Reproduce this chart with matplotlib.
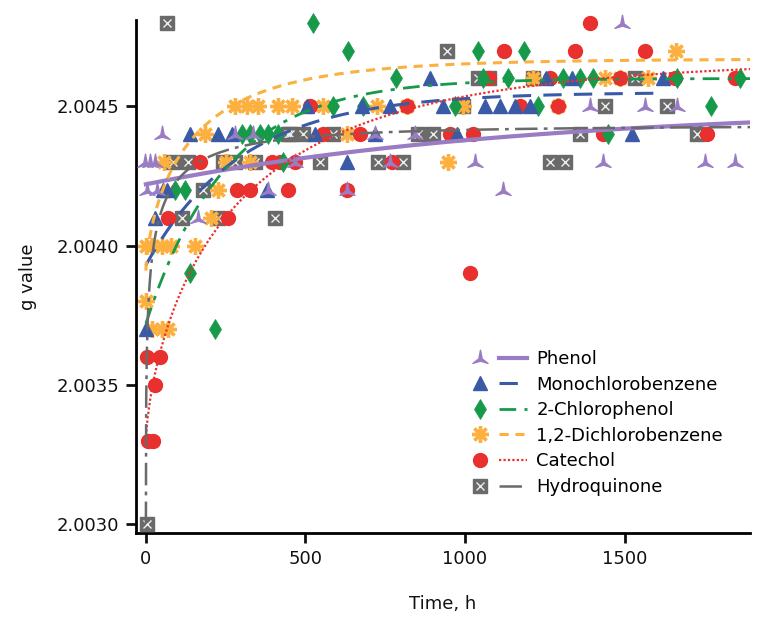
import numpy as np
import matplotlib
matplotlib.use("Agg")
import matplotlib.pyplot as plt
from matplotlib.path import Path
from matplotlib.legend_handler import HandlerTuple

plt.rcParams['font.family'] = ['DejaVu Sans']

# ---------------- data ----------------
series_names = ["Phenol", "Monochlorobenzene", "2-Chlorophenol",
                "1,2-Dichlorobenzene", "Catechol", "Hydroquinone"]

phenol_t = [-3, 13, 28, 3, 35, 50, 163, 279, 335, 382, 467, 630, 718, 765, 843,
            1031, 1119, 1392, 1433, 1492, 1564, 1665, 1752, 1846]
phenol_g = [2.0043, 2.0043, 2.0043, 2.0042, 2.0042, 2.0044, 2.0041, 2.0044, 2.0044,
            2.0042, 2.0043, 2.0042, 2.0044, 2.0043, 2.0044,
            2.0043, 2.0042, 2.0045, 2.0043, 2.0048, 2.0045, 2.0045, 2.0043, 2.0043]

mcb_t = [0, 30, 53, 66, 138, 226, 270, 379, 505, 530, 630, 677, 718, 765, 890, 931,
         975, 1063, 1110, 1157, 1204, 1254, 1335, 1524, 1620]
mcb_g = [2.0037, 2.0041, 2.0042, 2.0042, 2.0044, 2.0044, 2.0044, 2.0042, 2.0045, 2.0044,
         2.0043, 2.0045, 2.0044, 2.0045, 2.0046, 2.0045,
         2.0044, 2.0045, 2.0045, 2.0045, 2.0045, 2.0046, 2.0046, 2.0044, 2.0046]

cp_t = [91, 122, 138, 216, 301, 326, 357, 382, 414, 430, 523, 586, 633, 680, 784,
        969, 1041, 1056, 1135, 1185, 1229, 1307, 1360, 1401, 1448, 1665, 1771, 1862]
cp_g = [2.0042, 2.0042, 2.0039, 2.0037, 2.0044, 2.0044, 2.0044, 2.0044, 2.0044, 2.0043,
        2.0048, 2.0045, 2.0047, 2.0045, 2.0046,
        2.0045, 2.0047, 2.0046, 2.0046, 2.0047, 2.0045, 2.0046, 2.0046, 2.0046, 2.0044,
        2.0046, 2.0045, 2.0046]

dcb_t = [0, 20, 50, 80, 154, 0, 19, 50, 69, 57, 185, 204, 226, 252, 326,
         279, 317, 351, 414, 458, 555, 630, 724, 818, 947,
         994, 1213, 1292, 1439, 1486, 1574, 1661]
dcb_g = [2.0040, 2.0040, 2.0040, 2.0040, 2.0040, 2.0038, 2.0037, 2.0037, 2.0037,
         2.0043, 2.0044, 2.0041, 2.0042, 2.0043, 2.0043,
         2.0045, 2.0045, 2.0045, 2.0045, 2.0045, 2.0045, 2.0044, 2.0045, 2.0045, 2.0043,
         2.0045, 2.0046, 2.0045, 2.0046, 2.0046, 2.0046, 2.0047]

cat_t = [3, 44, 28, 6, 22, 69, 169, 257, 285, 326, 445, 395, 420, 467, 514, 555,
         630, 671, 771, 818, 953, 1016, 1025, 1075, 1122, 1172, 1266, 1292, 1345,
         1392, 1433, 1486, 1564, 1658, 1758, 1846]
cat_g = [2.0036, 2.0036, 2.0035, 2.0033, 2.0033, 2.0041, 2.0043, 2.0041, 2.0042,
         2.0042, 2.0042, 2.0043, 2.0043, 2.0043, 2.0045, 2.0044,
         2.0042, 2.0044, 2.0043, 2.0045, 2.0044, 2.0039, 2.0044, 2.0046, 2.0047,
         2.0045, 2.0046, 2.0045, 2.0047,
         2.0048, 2.0044, 2.0046, 2.0047, 2.0046, 2.0044, 2.0046]

hq_t = [3, 66, 85, 132, 241, 279, 342, 179, 113, 226, 404, 445, 451, 492, 586,
        853, 900, 545, 727, 806, 943, 994, 1040, 1075, 1213, 1266, 1313, 1360,
        1439, 1533, 1633, 1727]
hq_g = [2.0030, 2.0048, 2.0043, 2.0043, 2.0043, 2.0043, 2.0043, 2.0042, 2.0041,
        2.0041, 2.0041, 2.0044, 2.0044, 2.0044, 2.0044,
        2.0044, 2.0044, 2.0043, 2.0043, 2.0043, 2.0047, 2.0045, 2.0046, 2.0046,
        2.0046, 2.0043, 2.0043, 2.0044, 2.0045, 2.0046, 2.0045, 2.0044]

# fitted-curve parameters: g = A - B*exp(-(t/tau)^p)
fit_A = [2.00450, 2.00455, 2.00460, 2.00467, 2.00467, 2.00443]
fit_B = [0.00028, 0.00062, 0.00088, 0.00076, 0.00137, 0.00143]
fit_tau = [1200, 300, 250, 150, 300, 14.6]
fit_p = [1.0, 1.0, 1.0, 0.7, 0.7, 0.36]
fit_tmax = [1900, 1610, 1900, 1900, 1900, 1900]

x_ticks = [0, 500, 1000, 1500]
y_ticks = [2.0030, 2.0035, 2.0040, 2.0045]

# ---------------- style ----------------
colors = ['#9a7cc4', '#3b5aa6', '#17994a', '#fbb040', '#e8302e', '#6a6a6a']
line_styles = ['-', (0, (6, 4)), (0, (6, 3, 1.5, 3)), (0, (3, 2.2)),
               (0, (1, 1)), (0, (9, 2.5, 1.5, 2.5))]
line_widths = [3.0, 2.2, 2.0, 2.2, 1.6, 1.8]

phenol_marker = Path([(0, 1.1), (-0.22, -0.05), (-1.0, -0.65), (0, -0.35),
                      (1.0, -0.65), (0.22, -0.05), (0, 1.1)],
                     [Path.MOVETO] + [Path.LINETO] * 5 + [Path.CLOSEPOLY])

fig = plt.figure(figsize=(7.62, 6.27), dpi=100)
ax = fig.add_axes([136 / 762, 1 - 533 / 627, (750 - 136) / 762, (533 - 20) / 627])

h_sq, = ax.plot(hq_t, hq_g, ls='none', marker='s', ms=10.2, mfc=colors[5],
                mec=colors[5], zorder=3, clip_on=False)
h_x, = ax.plot(hq_t, hq_g, ls='none', marker='x', ms=5.5, mew=1.0, color='#eeeeee',
               zorder=3.1, clip_on=False)
h_dcb, = ax.plot(dcb_t, dcb_g, ls='none', marker=(8, 2, 0), ms=12, mew=2.4,
                 color=colors[3], zorder=3.2, clip_on=False)
h_cat, = ax.plot(cat_t, cat_g, ls='none', marker='o', ms=10, color=colors[4],
                 mec=colors[4], zorder=3.3, clip_on=False)
h_cp, = ax.plot(cp_t, cp_g, ls='none', marker='d', ms=10, mew=0.5, color=colors[2],
                mec=colors[2], zorder=3.4, clip_on=False)
h_mcb, = ax.plot(mcb_t, mcb_g, ls='none', marker='^', ms=10, color=colors[1],
                 mec=colors[1], zorder=3.5, clip_on=False)
h_ph, = ax.plot(phenol_t, phenol_g, ls='none', marker=phenol_marker, ms=12,
                color=colors[0], mec=colors[0], zorder=3.6, clip_on=False)

hq_marker = (h_sq, h_x)
marker_handles = [h_ph, h_mcb, h_cp, h_dcb, h_cat, hq_marker]

line_handles = []
for i in range(6):
    t = np.linspace(0, fit_tmax[i], 2000)
    g = fit_A[i] - fit_B[i] * np.exp(-(t / fit_tau[i]) ** fit_p[i])
    ln, = ax.plot(t, g, color=colors[i], ls=line_styles[i], lw=line_widths[i], zorder=4)
    line_handles.append(ln)

ax.set_xlim(-31, 1893)
ax.set_ylim(2.002968, 2.00481)
ax.set_xticks(x_ticks)
ax.set_yticks(y_ticks)
ax.set_yticklabels([f"{v:.4f}" for v in y_ticks])
ax.spines['top'].set_visible(False)
ax.spines['right'].set_visible(False)
for s in ['left', 'bottom']:
    ax.spines[s].set_linewidth(2.0)
ax.tick_params(direction='out', length=7, width=2.0, labelsize=13, colors='#111111', pad=5)

ax.set_xlabel("Time, h", fontsize=13, labelpad=20, color='#111111')
ax.set_ylabel("g value", fontsize=13, labelpad=14, color='#111111')

handles = [(marker_handles[i], line_handles[i]) for i in range(6)]
hmap = {tuple: HandlerTuple(ndivide=None, pad=0.3),
        hq_marker: HandlerTuple(ndivide=1)}
fig.legend(handles, series_names, handler_map=hmap,
           loc='upper left', bbox_to_anchor=(466 / 762, 1 - 350 / 627),
           bbox_transform=fig.transFigure, frameon=False, fontsize=13,
           handlelength=3.4, handletextpad=0.5, labelspacing=0.42,
           borderpad=0, borderaxespad=0)

fig.savefig("out.png", dpi=100)
